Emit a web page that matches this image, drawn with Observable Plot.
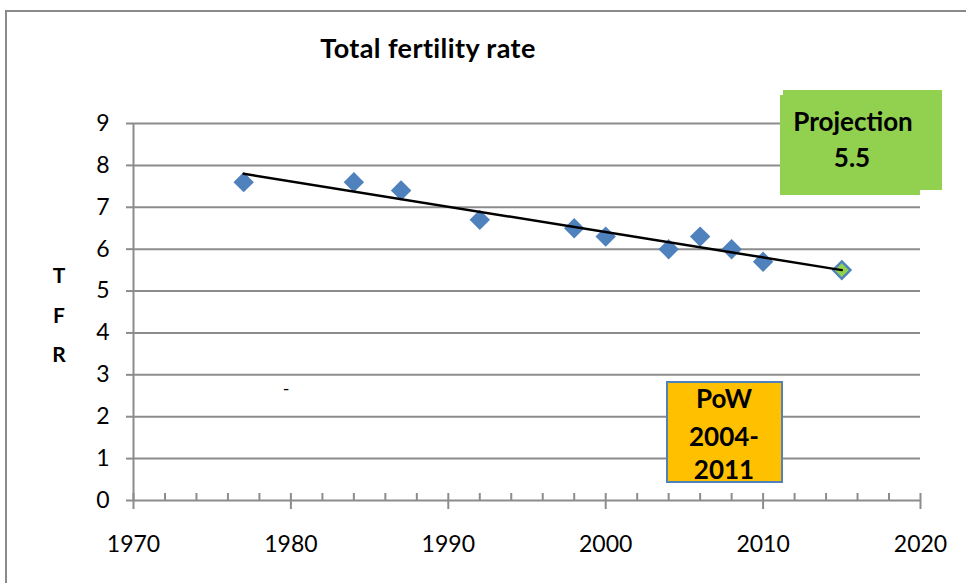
<!DOCTYPE html>
<html>
<head>
<meta charset="utf-8">
<script src="https://cdn.jsdelivr.net/npm/d3@7"></script>
<script src="https://cdn.jsdelivr.net/npm/@observablehq/plot@0.6"></script>
<style>
  html, body { margin: 0; padding: 0; background: #fff; }
  #wrap { position: relative; width: 966px; height: 583px; overflow: hidden; font-family: Lato, "Noto Sans", sans-serif; }
  #chart { position: absolute; left: 0; top: 0; }
  .border { position: absolute; left: 5px; top: 10px; width: 1000px; height: 600px; border-left: 2px solid #8a8a8a; border-top: 2px solid #8a8a8a; }
  .lbl { position: absolute; white-space: nowrap; text-align: center; line-height: 1.2; color: #000; }
  .box { position: absolute; box-sizing: border-box; }
</style>
</head>
<body>
<div id="wrap">
  <div id="chart"></div>
</div>
<script>
// ---- data ----
const years = [1977, 1984, 1987, 1992, 1998, 2000, 2004, 2006, 2008, 2010];
const tfr = [7.6, 7.6, 7.4, 6.7, 6.5, 6.3, 6.0, 6.3, 6.0, 5.7];
const projectionYears = [2015];
const projectionValues = [5.5];
const trendYears = [1977, 2015];
const trendValues = [7.8, 5.5];
const xTicks = [1970, 1980, 1990, 2000, 2010, 2020];
const xMinorTicks = d3.range(1970, 2021, 2);
const yTicks = [0, 1, 2, 3, 4, 5, 6, 7, 8, 9];

const points = years.map((x, i) => ({x, y: tfr[i]}));
const projection = projectionYears.map((x, i) => ({x, y: projectionValues[i]}));
const trend = trendYears.map((x, i) => ({x, y: trendValues[i]}));

const gray = "#8c8c8c";
const blue = "#4F81BD";

const chart = Plot.plot({
  width: 966,
  height: 583,
  marginLeft: 133,
  marginRight: 46,
  marginTop: 123,
  marginBottom: 83,
  style: {fontFamily: "Lato, 'Noto Sans', sans-serif", fontSize: "23px", color: "#000", background: "transparent", overflow: "visible"},
  x: {domain: [1970, 2020]},
  y: {domain: [0, 9]},
  marks: [
    Plot.gridY(yTicks.filter(d => d > 0), {stroke: gray, strokeOpacity: 1, strokeWidth: 2}),
    Plot.ruleY([0], {stroke: gray, strokeWidth: 2}),
    Plot.ruleX([1970], {stroke: gray, strokeWidth: 2}),
    Plot.axisY({ticks: yTicks, tickSize: 7, tickPadding: 17, stroke: gray, strokeWidth: 2, label: null, tickFormat: d => String(d), fill: "#000"}),
    Plot.axisX({ticks: xMinorTicks, tickSize: -7, stroke: gray, strokeWidth: 2, label: null, tickFormat: () => ""}),
    Plot.axisX({ticks: xTicks, tickSize: 9, tickPadding: 26, stroke: gray, strokeWidth: 2, label: null, tickFormat: d => String(d), fill: "#000"}),
    Plot.dot(points, {x: "x", y: "y", symbol: "diamond2", r: 9.2, fill: blue, stroke: "none"}),
    Plot.dot(projection, {x: "x", y: "y", symbol: "diamond2", r: 7.8, fill: "#92D050", stroke: blue, strokeWidth: 2.4}),
    Plot.line(trend, {x: "x", y: "y", stroke: "#000", strokeWidth: 2.5})
  ]
});
document.getElementById("chart").appendChild(chart);

// ---- annotations (HTML overlay) ----
const wrap = document.getElementById("wrap");
function addDiv(cls, css, text) {
  const d = document.createElement("div");
  d.className = cls;
  Object.assign(d.style, css);
  if (text != null) d.textContent = text;
  wrap.appendChild(d);
  return d;
}
function label(text, cx, baseline, size, weight, spacing) {
  const d = addDiv("lbl", {
    fontSize: size + "px",
    fontWeight: weight,
    letterSpacing: (spacing || 0) + "px",
    left: (cx - 200) + "px",
    width: "400px",
    top: (baseline - 0.987 * size) + "px"
  }, text);
  return d;
}
addDiv("border", {});
label("Total fertility rate", 428, 59, 27, 700, 0.4);
label("T", 59, 283, 21, 700);
label("F", 59, 323, 21, 700);
label("R", 59, 362, 21, 700);
label("-", 286, 396, 18, 400);

addDiv("box", {left: "783px", top: "90px", width: "159px", height: "100px", background: "#92D050"});
addDiv("box", {left: "780px", top: "95px", width: "140px", height: "100px", background: "#92D050"});
label("Projection", 853, 132, 26, 700);
label("5.5", 852, 168, 26, 700);

addDiv("box", {left: "666px", top: "381px", width: "117px", height: "102px", background: "#FFC000", border: "2px solid " + blue});
label("PoW", 724, 409, 26, 700);
label("2004-", 724, 447, 26, 700);
label("2011", 724, 480, 26, 700);
</script>
</body>
</html>
